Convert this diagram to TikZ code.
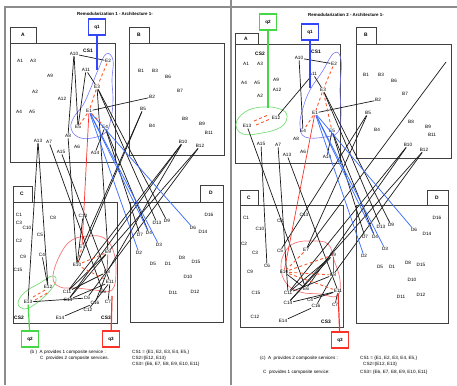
\documentclass[tikz,border=0pt]{standalone}
\usepackage{fontspec}
\setmainfont{Liberation Sans}
\definecolor{cblue}{RGB}{50,70,250}
\definecolor{lblue}{RGB}{60,110,250}
\definecolor{cred}{RGB}{250,50,40}
\definecolor{corange}{RGB}{250,85,40}
\definecolor{cgreen}{RGB}{70,215,70}
\definecolor{blobred}{RGB}{245,120,120}
\definecolor{blobblue}{RGB}{120,120,250}
\definecolor{blobgreen}{RGB}{120,220,120}
\tikzset{
 lbl/.style={font=\fontsize{4.7}{5}\selectfont, inner sep=0.6pt},
 blbl/.style={font=\bfseries\fontsize{4.9}{5}\selectfont, inner sep=0.6pt},
 captxt/.style={font=\fontsize{4.6}{5.5}\selectfont, inner sep=0pt, anchor=west},
 ttl/.style={font=\bfseries\fontsize{4.4}{5}\selectfont, inner sep=0pt},
 box/.style={draw=black!75, line width=0.6pt},
 frame/.style={draw=black!45, line width=1.4pt},
 edge/.style={draw=black!90, line width=0.7pt},
 bedge/.style={draw=lblue, line width=0.75pt},
 redge/.style={draw=cred, line width=0.7pt},
 rdash/.style={draw=corange, line width=0.85pt, dash pattern=on 3pt off 2.5pt},
 qbox/.style={draw=#1, line width=1.2pt, minimum width=17pt, minimum height=16pt, font=\bfseries\fontsize{4.6}{5}\selectfont, inner sep=0pt, fill=white},
}
\begin{document}
\begin{tikzpicture}[x=1pt,y=-1pt]
\useasboundingbox (0,0) rectangle (457,385);
% frame
\draw[frame] (5,385) -- (5,7) -- (457,7);
\draw[frame] (231,0) -- (231,385);
% titles
\node[ttl] (Lt) at (115,14) {Remodularization 1 - Architecture 1-};
\node[ttl] (Rt) at (346,15) {Remodularization 2 - Architecture 1-};
% ---------------- left boxes
\draw[box] (10,27) rectangle (36,43); \draw[box] (10,43) rectangle (115,162);
\draw[box] (129,27) rectangle (149,43); \draw[box] (129,43) rectangle (224,155);
\draw[box] (13,186) rectangle (32,202); \draw[box] (13,202) rectangle (117,323);
\draw[box] (200,185) rectangle (223,202); \draw[box] (130,202) rectangle (223,322);
\node[blbl] (LtA) at (23,35) {A}; \node[blbl] (LtB) at (139,35) {B};
\node[blbl] (LtC) at (22,194) {C}; \node[blbl] (LtD) at (211,193) {D};
% ---------------- right boxes
\draw[box] (235,33) rectangle (258,44); \draw[box] (235,44) rectangle (340,163);
\draw[box] (356,27) rectangle (376,44); \draw[box] (356,44) rectangle (451,158);
\draw[box] (240,190) rectangle (258,205); \draw[box] (240,205) rectangle (343,327);
\draw[box] (427,190) rectangle (448,205); \draw[box] (356,205) rectangle (448,323);
\node[blbl] (RtA) at (246,39) {A}; \node[blbl] (RtB) at (366,35) {B};
\node[blbl] (RtC) at (249,198) {C}; \node[blbl] (RtD) at (437,198) {D};
% ---------------- blobs
\draw[blobblue, line width=0.6pt] plot[smooth cycle, tension=0.7] coordinates {(106,54) (113,60) (112,80) (113,100) (111,118) (106,132) (92,138) (78,137) (71,128) (74,117) (83,105) (90,90) (98,70)};
\draw[blobred, line width=0.7pt] plot[smooth cycle, tension=0.7] coordinates {(53,277) (60,255) (72,240) (90,236) (104,238) (113,250) (116,270) (112,290) (95,290) (77,288) (60,287)};
\draw[blobgreen, line width=0.7pt] plot[smooth cycle, tension=0.7] coordinates {(18,303) (25,292) (40,283) (52,276) (56,281) (48,293) (34,305) (24,309)};
\draw[blobblue, line width=0.6pt] plot[smooth cycle, tension=0.7] coordinates {(334,53) (341,60) (340,90) (341,115) (338,132) (325,137) (305,137) (300,125) (303,108) (310,90) (322,72)};
\draw[blobred, line width=0.7pt] plot[smooth cycle, tension=0.7] coordinates {(281,267) (285,252) (295,243) (312,241) (328,244) (334,260) (340,280) (337,296) (320,294) (300,292) (286,283)};
\draw[blobgreen, line width=0.7pt] plot[smooth cycle, tension=0.7] coordinates {(236,124) (245,112) (262,107) (280,109) (287,116) (281,127) (262,133) (243,134)};
% ---------------- left nodes
\foreach \n/\x/\y/\t in {LA1/20/61/A1, LA3/33/61/A3, LA9/50/76/A9, LA2/35/92/A2, LA12/62/99/A12, LA4/19/112/A4, LA5/32/112/A5, LA10/74/54/A10, LE2/108/61/E2, LA11/86/70/A11, LE3/97/87/E3, LE1/89/111/E1, LE5/78/127/E5, LE4/105/127/E4, LA8/68/136/A8, LA6/77/147/A6, LA14/95/153/A14, LA13/38/141/A13, LA7/49/142/A7, LA15/61/152/A15,
 LB1/141/71/B1, LB3/155/71/B3, LB6/168/77/B6, LB7/180/91/B7, LB2/152/97/B2, LB5/143/109/B5, LB8/185/119/B8, LB4/152/126/B4, LB9/202/124/B9, LB11/209/133/B11, LB10/183/142/B10, LB12/200/146/B12,
 LC1/19/215/C1, LC3/19/223/C3, LC10/27/228/C10, LC8/53/218/C8, LC13/83/216/C13, LC5/40/235/C5, LC2/19/241/C2, LC9/23/257/C9, LC4/42/255/C4, LC15/18/270/C15, LE12/48/287/E12, LE13/28/302/E13, LE7/82/247/E7, LE9/108/252/E9, LE10/77/265/E10, LE8/107/272/E8, LE11/110/282/E11, LC11/67/292/C11, LC14/68/300/C14, LE6/103/292/E6, LC6/87/298/C6, LC16/95/303/C16, LC7/108/302/C7, LC12/88/310/C12, LE14/60/318/E14,
 LD16/209/215/D16, LD13/157/223/D13, LD9/167/221/D9, LD6/193/228/D6, LD14/203/232/D14, LD7/140/235/D7, LD4/149/233/D4, LD3/159/245/D3, LD2/139/253/D2, LD5/153/264/D5, LD1/168/264/D1, LD8/182/258/D8, LD15/196/262/D15, LD10/188/277/D10, LD11/173/293/D11, LD12/195/292/D12}
 \node[lbl] (\n) at (\x,\y) {\t};
% ---------------- right nodes
\foreach \n/\x/\y/\t in {RA1/246/64/A1, RA3/260/64/A3, RA4/244/83/A4, RA5/257/83/A5, RA9/276/80/A9, RA12/277/90/A12, RA2/260/96/A2, RA10/299/58/A10, RE2/334/64/E2, RA11/313/74/A11, RE3/323/90/E3, RE1/315/113/E1, RE12/276/118/E12, RE13/247/126/E13, RA15/261/144/A15, RA7/278/145/A7, RA13/287/155/A13, RA8/296/139/A8, RA6/303/152/A6, RA14/327/157/A14, RE4/303/131/E4, RE5/332/131/E5,
 RB1/366/75/B1, RB3/381/75/B3, RB6/394/81/B6, RB7/405/94/B7, RB2/378/100/B2, RB5/368/113/B5, RB4/377/130/B4, RB8/411/122/B8, RB9/428/127/B9, RB11/432/135/B11, RB10/408/145/B10, RB12/424/150/B12,
 RC1/246/218/C1, RC10/260/229/C10, RC8/280/221/C8, RC13/304/215/C13, RC2/244/244/C2, RC3/255/253/C3, RC5/280/251/C5, RE7/306/250/E7, RC6/267/266/C6, RC9/250/272/C9, RE10/284/272/E10, RE9/333/255/E9, RE8/333/275/E8, RC15/256/293/C15, RC11/288/293/C11, RE6/306/289/E6, RE11/338/291/E11, RC14/288/303/C14, RC4/310/300/C4, RC16/316/306/C16, RC7/335/305/C7, RC12/255/317/C12, RE14/283/321/E14,
 RD16/437/218/D16, RD13/381/227/D13, RD9/391/225/D9, RD6/414/230/D6, RD14/427/234/D14, RD7/365/237/D7, RD4/375/237/D4, RD3/385/249/D3, RD2/364/256/D2, RD5/380/267/D5, RD1/392/267/D1, RD8/408/263/D8, RD15/421/265/D15, RD10/412/280/D10, RD11/401/297/D11, RD12/421/295/D12}
 \node[lbl] (\n) at (\x,\y) {\t};
% CS labels
\node[blbl] (LCS1) at (88,51) {CS1};
\node[blbl] (LCS2) at (19,318) {CS2};
\node[blbl] (LCS3) at (106,318) {CS3};
\node[blbl] (RCS1) at (316,52) {CS1};
\node[blbl] (RCS2) at (260,54) {CS2};
\node[blbl] (RCS3) at (326,322) {CS3};
% ---------------- left edges
\foreach \a/\b in {LA10/LE2, LA10/LE5, LA10/LA8, LA11/LE3, LA11/LE5, LE1/LB2, LA14/LE4, LE3/LD13, LE3/LD9, LE4/LD7, LE4/LD4, LE3/LE9, LB5/LE7, LB5/LE10, LB10/LC11, LB10/LE8, LB10/LC14, LB12/LE9, LB12/LC6, LA13/LE13, LA13/LE12, LA7/LE6, LA15/LE11, LA8/LE10, LC4/LE12, LE13/LC6, LE14/LC16, LC11/LE9, LC11/LE8, LC14/LE9, LC14/LE11, LC12/LE11, LC16/LE8, LC7/LE11, LC13/LE10}
 \draw[edge] (\a) -- (\b);
\foreach \a/\b in {LE1/LD6, LE1/LD3, LE1/LD2, LE1/LD4}
 \draw[bedge] (\a) -- (\b);
\draw[redge] (LE1) -- (LE7);
\draw[redge] (LE9) -- (LE8);
\foreach \a/\b in {LE2/LE3, LE3/LE1, LE1/LE5, LE1/LE4, LE10/LE9, LE10/LE11, LE7/LE10}
 \draw[rdash] (\a) -- (\b);
\draw[rdash] (33,297) -- (47,289);
\draw[rdash] (35,300) -- (49,292);
% ---------------- right edges
\coordinate (Rlong) at (446,62);
\foreach \a/\b in {RA10/RE2, RA10/RE4, RA11/RE3, RA11/RE12, RE1/RB2, RA14/RE5, RE3/RD13, RE3/RD9, RE5/RD7, RE5/RD4, RB5/RE7, RB5/RC5, RB10/RC11, RB10/RE6, RB12/RC14, RB12/RE8, RE13/RE6, RA7/RC11, RA13/RE11, RA15/RC6, RC11/RE9, RC11/RE8, RC14/RE9, RC14/RE11, RC4/RE11, RC16/RE8, RC7/RE11, RE14/RC16, RE10/RE6, Rlong/RE7}
 \draw[edge] (\a) -- (\b);
\foreach \a/\b in {RE1/RD6, RE1/RD3, RE1/RD2, RE1/RD4}
 \draw[bedge] (\a) -- (\b);
\draw[redge] (RE1) -- (RE10);
\draw[redge] (RE9) -- (RE8);
\foreach \a/\b in {RE2/RE3, RE3/RE1, RE1/RE4, RE3/RE5, RE10/RE9, RE10/RE8, RE10/RE11, RE7/RE10}
 \draw[rdash] (\a) -- (\b);
\draw[rdash] (254,121) -- (268,115);
\draw[rdash] (256,125) -- (270,119);
% ---------------- q boxes
\node[qbox=cblue] (Lq1) at (97,27) {q1};
\node[qbox=cgreen] (Lq2) at (30,339) {q2};
\node[qbox=cred] (Lq3) at (111,339) {q3};
\node[qbox=cgreen] (Rq2) at (268,22) {q2};
\node[qbox=cblue] (Rq1) at (310,32) {q1};
\node[qbox=cred] (Rq3) at (340,340) {q3};
\coordinate (Lq1e) at (97,70);
\coordinate (Lq3e) at (112,296);
\coordinate (Rq1e) at (310,88);
\coordinate (Rq2e) at (268,108);
\draw[cblue, line width=1.2pt] (Lq1) -- (Lq1e);
\draw[cgreen, line width=1.2pt] (Lq2) -- (LE13);
\draw[cred, line width=1.2pt] (Lq3) -- (Lq3e);
\draw[cblue, line width=1.2pt] (Rq1) -- (Rq1e);
\draw[cgreen, line width=1.2pt] (Rq2) -- (Rq2e);
\draw[cred, line width=1.2pt] (RE11) -- (Rq3);
% ---------------- captions
\node[captxt] (c1) at (30,352) {(b ) \ A provides 1 composite service :};
\node[captxt] (c2) at (40,358) {C \ provides 2 composite services.};
\node[captxt] (c3) at (132,352) {CS1 = \{E1, E2, E3, E4, E5,\}};
\node[captxt] (c4) at (132,358) {CS2=\{E12, E13\}};
\node[captxt] (c5) at (132,364) {CS3= \{E6, E7, E8, E9, E10, E11\}};
\node[captxt] (c6) at (260,358) {(c) \ A \ provides 2 composite services :};
\node[captxt] (c7) at (360,358) {CS1 = \{E1, E2, E3, E4, E5,\}};
\node[captxt] (c8) at (363,364) {CS2=\{E12, E13\}};
\node[captxt] (c9) at (263,372) {C \ provides 1 composite service:};
\node[captxt] (c10) at (360,372) {CS3= \{E6, E7, E8, E9, E10, E11\}};
\end{tikzpicture}
\end{document}
